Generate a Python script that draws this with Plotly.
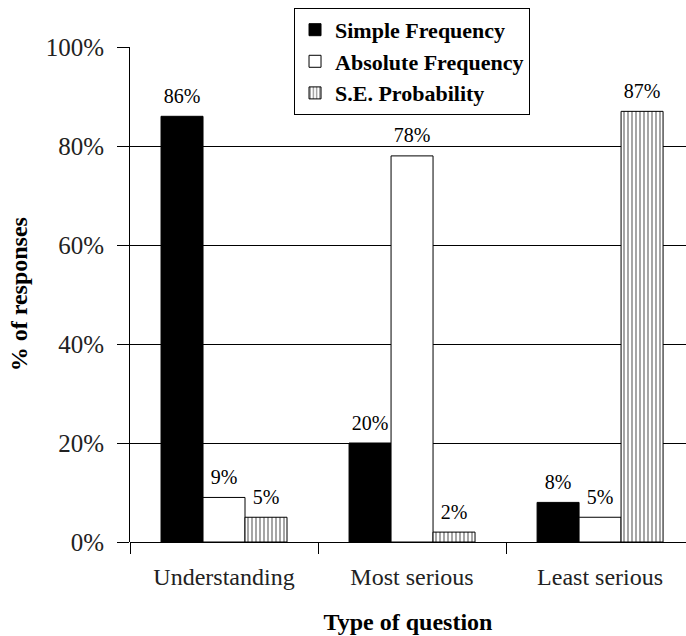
import plotly.graph_objects as go

# Response shares by question type
categories = ["Understanding", "Most serious", "Least serious"]
simple_freq = [86, 20, 8]
absolute_freq = [9, 78, 5]
se_prob = [5, 2, 87]
y_ticks = [0, 20, 40, 60, 80, 100]
y_tick_labels = ["0%", "20%", "40%", "60%", "80%", "100%"]

SERIF = "Liberation Serif"

series = [
    ("Simple Frequency", simple_freq,
     dict(color="black", line=dict(color="black", width=1))),
    ("Absolute Frequency", absolute_freq,
     dict(color="white", line=dict(color="black", width=1))),
    ("S.E. Probability", se_prob,
     dict(color="white", line=dict(color="black", width=1),
          pattern=dict(shape="|", fgcolor="black", bgcolor="white",
                       size=4, solidity=0.35))),
]

fig = go.Figure()
for i, (name, vals, marker) in enumerate(series):
    fig.add_trace(go.Bar(
        name=name, x=categories, y=vals, marker=marker,
        offsetgroup=str(i),
    ))
# value labels, grouped the same way as the bars
for i, (name, vals, _) in enumerate(series):
    fig.add_trace(go.Scatter(
        x=categories, y=vals, mode="markers+text",
        text=[f"{v}%" for v in vals], textposition="top center",
        marker=dict(size=12, color="rgba(0,0,0,0)"),
        textfont=dict(family=SERIF, size=20, color="black"),
        offsetgroup=str(i), showlegend=False, hoverinfo="skip",
        cliponaxis=False,
    ))

fig.update_layout(
    width=686, height=636,
    margin=dict(l=130, r=0, t=47, b=94),
    paper_bgcolor="white", plot_bgcolor="white",
    barmode="group", bargap=0.33, bargroupgap=0,
    scattermode="group", scattergap=0.33,
    font=dict(family=SERIF, color="black"),
    showlegend=True,
    legend=dict(
        x=0.295, y=1.079, xanchor="left", yanchor="top",
        bgcolor="white", bordercolor="black", borderwidth=1,
        font=dict(family=SERIF, size=22, color="black", weight="bold"),
        traceorder="normal", itemwidth=30, tracegroupgap=0,
    ),
    xaxis=dict(
        range=[-0.5, 2.457],
        tickson="boundaries", ticks="outside", ticklen=11, tickwidth=1,
        tickcolor="black", showline=False, showgrid=False, zeroline=False,
        tickfont=dict(family=SERIF, size=24, color="#222"),
        ticklabelstandoff=18,
        title=dict(text="<b>Type of question</b>", standoff=24,
                   font=dict(family=SERIF, size=24, color="black")),
    ),
    yaxis=dict(
        range=[0, 100],
        tickvals=y_ticks, ticktext=y_tick_labels,
        ticks="outside", ticklen=12, tickwidth=1, tickcolor="black",
        showline=True, linecolor="black", linewidth=1,
        showgrid=True, gridcolor="black", gridwidth=1,
        zeroline=True, zerolinecolor="black", zerolinewidth=1,
        tickfont=dict(family=SERIF, size=25, color="#222"),
        ticklabelstandoff=8,
    ),
    annotations=[dict(
        text="<b>% of responses</b>", textangle=-90,
        xref="paper", yref="paper", x=-0.2, y=0.5,
        xanchor="center", yanchor="middle", showarrow=False,
        font=dict(family=SERIF, size=24, color="black"),
    )],
)

fig.write_html("out.html")
